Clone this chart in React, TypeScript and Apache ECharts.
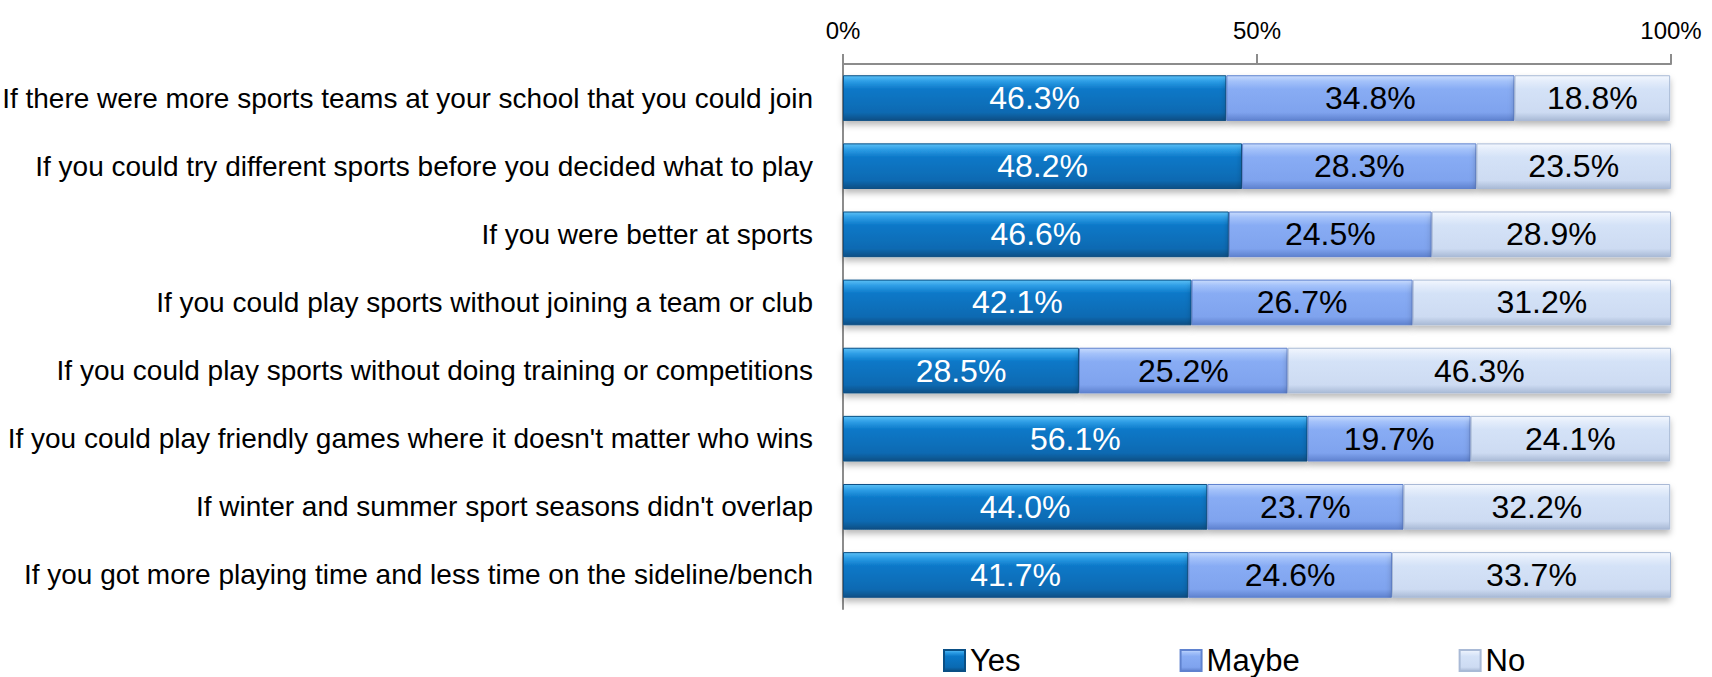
import React, { useEffect, useRef } from "react";
import * as echarts from "echarts";

const categories = [
  "If there were more sports teams at your school that you could join",
  "If you could try different sports before you decided what to play",
  "If you were better at sports",
  "If you could play sports without joining a team or club",
  "If you could play sports without doing training or competitions",
  "If you could play friendly games where it doesn't matter who wins",
  "If winter and summer sport seasons didn't overlap",
  "If you got more playing time and less time on the sideline/bench",
];
const yesValues = [46.3, 48.2, 46.6, 42.1, 28.5, 56.1, 44.0, 41.7];
const maybeValues = [34.8, 28.3, 24.5, 26.7, 25.2, 19.7, 23.7, 24.6];
const noValues = [18.8, 23.5, 28.9, 31.2, 46.3, 24.1, 32.2, 33.7];
const seriesNames = ["Yes", "Maybe", "No"];

const FONT = "'Liberation Sans', Arial, sans-serif";

function grad(top: string, hi: string, main: string, low: string, bottom: string) {
  return new echarts.graphic.LinearGradient(0, 0, 0, 1, [
    { offset: 0, color: top },
    { offset: 0.12, color: hi },
    { offset: 0.3, color: main },
    { offset: 0.82, color: low },
    { offset: 1, color: bottom },
  ]);
}

export default function App() {
  const ref = useRef<HTMLDivElement>(null);
  useEffect(() => {
    if (!ref.current) return;
    const chart = echarts.init(ref.current, undefined, { renderer: "svg" });
    const styles = [
      { color: grad("#5cc0f5", "#2e9ee6", "#0b78c8", "#0a6ab2", "#0a4f85"), border: "#0a4f85", label: "#ffffff" },
      { color: grad("#c8dbfc", "#a4c2fa", "#88acf4", "#7fa3ee", "#5f82cf"), border: "#5f82cf", label: "#000000" },
      { color: grad("#f3f7fe", "#e4edfb", "#d4e2f7", "#cddbf2", "#a9bad6"), border: "#a9bad6", label: "#000000" },
    ];
    const data = [yesValues, maybeValues, noValues];
    chart.setOption({
      animation: false,
      textStyle: { fontFamily: FONT },
      grid: {
        left: 843,
        right: 41,
        top: 64,
        bottom: 68,
        containLabel: false,
        outerBoundsMode: "none",
      },
      xAxis: {
        type: "value",
        position: "top",
        min: 0,
        max: 100,
        interval: 50,
        axisLine: { show: true, lineStyle: { color: "#8c8c8c", width: 2 } },
        axisTick: { show: true, length: 10, lineStyle: { color: "#8c8c8c", width: 2 } },
        splitLine: { show: false },
        axisLabel: {
          formatter: (v: number) => `${v}%`,
          fontSize: 24,
          color: "#000",
          fontFamily: FONT,
          margin: 22,
        },
      },
      yAxis: {
        type: "category",
        inverse: true,
        data: categories,
        axisLine: { show: true, lineStyle: { color: "#8c8c8c", width: 2 } },
        axisTick: { show: false },
        axisLabel: { fontSize: 28, color: "#000", fontFamily: FONT, margin: 30 },
      },
      legend: {
        left: 938,
        top: 640,
        icon: "rect",
        itemWidth: 21,
        itemHeight: 21,
        itemGap: 159,
        data: seriesNames,
        textStyle: { fontSize: 31, color: "#000", fontFamily: FONT },
      },
      series: seriesNames.map((name, i) => ({
        name,
        type: "bar",
        stack: "total",
        barWidth: "67%",
        data: data[i],
        itemStyle: {
          color: styles[i].color,
          borderColor: styles[i].border,
          borderWidth: 1,
          shadowColor: "rgba(0,0,0,0.28)",
          shadowBlur: 6,
          shadowOffsetY: 4,
        },
        label: {
          show: true,
          position: "inside",
          color: styles[i].label,
          fontSize: 32,
          fontFamily: FONT,
          formatter: (p: any) => `${Number(p.value).toFixed(1)}%`,
        },
      })),
    });
    return () => chart.dispose();
  }, []);
  return (
    <div
      ref={ref}
      style={{ position: "fixed", left: 0, top: 0, width: 1712, height: 677, background: "#fff" }}
    />
  );
}
